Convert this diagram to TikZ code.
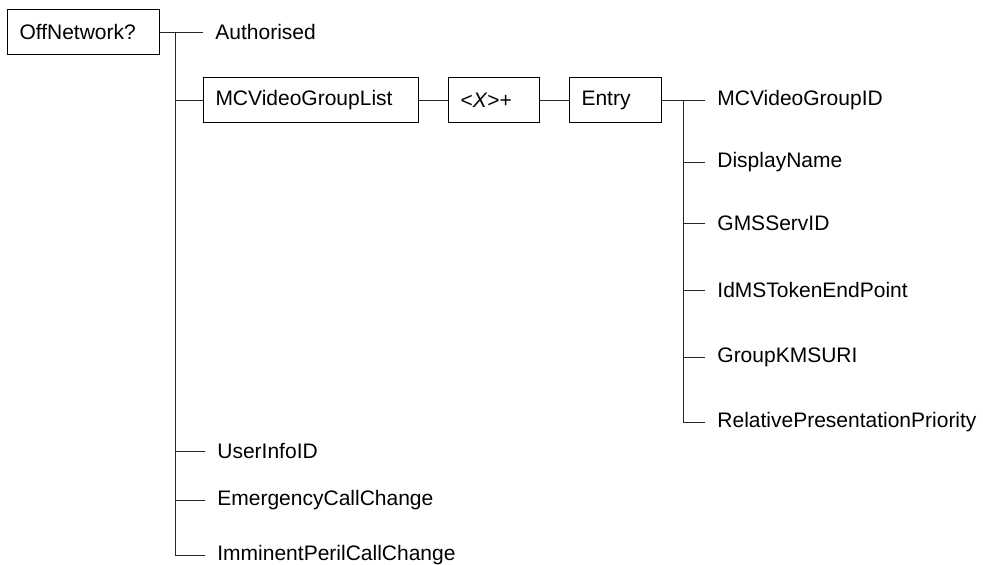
\documentclass[tikz,border=0pt]{standalone}
\usepackage{fontspec}
\setmainfont{Liberation Sans}
\begin{document}
\begin{tikzpicture}[
        x=0.5pt, y=-0.5pt,
        caja/.style={rectangle, draw=black, line width=0.5pt, anchor=west, align=left, minimum height=22.5pt, inner xsep=6pt, inner ysep=0pt, font=\fontsize{10.5}{12}\selectfont},
        hoja/.style={anchor=west, inner xsep=6pt, inner ysep=0pt, font=\fontsize{10.5}{12}\selectfont},
        linea/.style={draw=black!85, line width=0.5pt}
    ]
        \useasboundingbox (0,0) rectangle (983,564);

        % boxes
        \node[caja, text width=64pt] (root) at (7,32) {OffNetwork?};
        \node[caja, text width=95.5pt] (lst) at (203,100) {MCVideoGroupList};
        \node[caja, text width=33.5pt] (mult) at (448,100) {<\textit{X}>+};
        \node[caja, text width=34pt] (entry) at (569,100) {Entry};

        % leaves of OffNetwork?
        \node[hoja] (auth) at (203,32) {Authorised};
        \node[hoja] (user) at (205,451) {UserInfoID};
        \node[hoja] (emerg) at (205,500) {EmergencyCallChange};
        \node[hoja] (immin) at (205,555) {ImminentPerilCallChange};

        % leaves of Entry
        \node[hoja] (gid) at (705,100) {MCVideoGroupID};
        \node[hoja] (disp) at (705,162) {DisplayName};
        \node[hoja] (gms) at (705,223) {GMSServID};
        \node[hoja] (idms) at (705,290) {IdMSTokenEndPoint};
        \node[hoja] (kms) at (705,357) {GroupKMSURI};
        \node[hoja] (prio) at (705,422) {RelativePresentationPriority};

        \coordinate (troncoA) at (175,32);
        \coordinate (troncoB) at (683,100);

        \draw[linea] (root.east) -- (auth.west);
        \draw[linea] (troncoA) |- (immin.west);
        \draw[linea] (troncoA |- lst.west) -- (lst.west);
        \draw[linea] (troncoA |- user.west) -- (user.west);
        \draw[linea] (troncoA |- emerg.west) -- (emerg.west);

        \draw[linea] (lst.east) -- (mult.west);
        \draw[linea] (mult.east) -- (entry.west);

        \draw[linea] (entry.east) -- (gid.west);
        \draw[linea] (troncoB) |- (prio.west);
        \draw[linea] (troncoB |- disp.west) -- (disp.west);
        \draw[linea] (troncoB |- gms.west) -- (gms.west);
        \draw[linea] (troncoB |- idms.west) -- (idms.west);
        \draw[linea] (troncoB |- kms.west) -- (kms.west);
    \end{tikzpicture}
\end{document}
